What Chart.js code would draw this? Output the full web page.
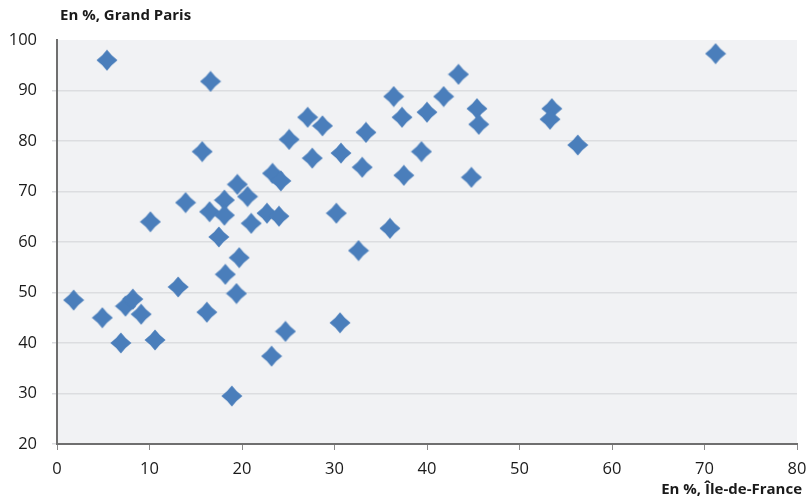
<!DOCTYPE html>
<html>
<head>
<meta charset="utf-8">
<script src="https://cdn.jsdelivr.net/npm/chart.js@4.4.1/dist/chart.umd.min.js"></script>
<style>
  html, body { margin: 0; padding: 0; background: #ffffff; }
  #wrap { position: relative; width: 810px; height: 497px; }
  canvas { position: absolute; left: 0; top: 0; }
  .ttl { position: absolute; font-family: "Open Sans", sans-serif; font-weight: bold; font-size: 15px; line-height: 15px; color: #1a1a1a; white-space: nowrap; }
  #yTitle { left: 60px; top: 7px; }
  #xTitle { right: 8px; top: 481px; }
</style>
</head>
<body>
<div id="wrap">
  <canvas id="c" width="810" height="497"></canvas>
  <div class="ttl" id="yTitle">En %, Grand Paris</div>
  <div class="ttl" id="xTitle">En %, Île-de-France</div>
</div>
<script>
// Share (%) in Île-de-France (x) vs Grand Paris (y)
const xValues = [1.8, 5.4, 4.9, 6.9, 7.4, 8.2, 9.1, 10.6, 10.1, 13.1, 13.9, 15.7, 16.6, 16.2, 16.5, 17.5, 18.1, 18.1, 19.5, 20.6, 21.0, 18.2, 19.7, 19.4, 18.9, 23.3, 24.2, 22.7, 24.0, 25.1, 27.1, 28.7, 27.6, 30.7, 33.4, 33.0, 30.2, 36.0, 32.6, 36.4, 37.3, 37.5, 39.4, 40.0, 41.8, 43.4, 45.4, 45.6, 44.8, 53.5, 53.3, 56.3, 30.6, 24.7, 23.2, 71.2];
const yValues = [48.5, 96.0, 45.0, 40.0, 47.3, 48.7, 45.7, 40.6, 64.0, 51.1, 67.8, 77.9, 91.8, 46.1, 66.0, 61.0, 68.3, 65.3, 71.4, 69.0, 63.7, 53.6, 56.9, 49.8, 29.5, 73.6, 72.1, 65.7, 65.1, 80.3, 84.7, 83.0, 76.6, 77.6, 81.7, 74.8, 65.7, 62.7, 58.3, 88.8, 84.7, 73.2, 77.9, 85.7, 88.8, 93.2, 86.4, 83.3, 72.8, 86.4, 84.3, 79.2, 44.0, 42.3, 37.4, 97.3];
const xTicks = [0, 10, 20, 30, 40, 50, 60, 70, 80];
const yTicks = [20, 30, 40, 50, 60, 70, 80, 90, 100];

const points = xValues.map((x, i) => ({ x: x, y: yValues[i] }));

// Diamond marker with slightly concave sides (Excel-like)
function makeMarker(size, color) {
  const c = document.createElement('canvas');
  c.width = size; c.height = size;
  const g = c.getContext('2d');
  const m = size / 2, r = m - 0.5, k = 1.1;
  const top = [m, m - r], right = [m + r, m], bot = [m, m + r], left = [m - r, m];
  function ctrl(a, b) {
    const mx = (a[0] + b[0]) / 2, my = (a[1] + b[1]) / 2;
    const dx = m - mx, dy = m - my, d = Math.hypot(dx, dy);
    return [mx + dx / d * k, my + dy / d * k];
  }
  g.fillStyle = color;
  g.beginPath();
  g.moveTo(top[0], top[1]);
  let q = ctrl(top, right); g.quadraticCurveTo(q[0], q[1], right[0], right[1]);
  q = ctrl(right, bot); g.quadraticCurveTo(q[0], q[1], bot[0], bot[1]);
  q = ctrl(bot, left); g.quadraticCurveTo(q[0], q[1], left[0], left[1]);
  q = ctrl(left, top); g.quadraticCurveTo(q[0], q[1], top[0], top[1]);
  g.closePath();
  g.fill();
  return c;
}
const marker = makeMarker(22, '#4a7ebb');

const plotBg = {
  id: 'plotBg',
  beforeDraw(chart) {
    const a = chart.chartArea, ctx = chart.ctx;
    ctx.save();
    ctx.fillStyle = '#f1f2f4';
    ctx.fillRect(a.left, a.top, a.right - a.left, a.bottom - a.top);
    ctx.restore();
  }
};

const tickFont = { family: '"Open Sans", sans-serif', size: 16.5 };

new Chart(document.getElementById('c'), {
  type: 'scatter',
  data: {
    datasets: [{
      data: points,
      pointStyle: marker,
      pointRadius: 11,
      pointHoverRadius: 11,
      backgroundColor: '#4a7ebb',
      borderColor: '#4a7ebb'
    }]
  },
  plugins: [plotBg],
  options: {
    responsive: false,
    animation: false,
    devicePixelRatio: 1,
    layout: { padding: { left: 0, top: 40, right: 13, bottom: 0 } },
    plugins: { legend: { display: false }, tooltip: { enabled: false } },
    scales: {
      x: {
        type: 'linear',
        min: xTicks[0], max: xTicks[xTicks.length - 1],
        afterBuildTicks(s) { s.ticks = xTicks.map(v => ({ value: v })); },
        afterFit(s) { s.height = 53; s.paddingLeft = 0; s.paddingRight = 0; },
        border: { color: '#6f6f6f', width: 2 },
        grid: { drawOnChartArea: false, drawTicks: true, tickLength: 6, color: '#8a8a8a', lineWidth: 1 },
        ticks: { font: tickFont, color: '#1a1a1a', padding: 9, maxRotation: 0 }
      },
      y: {
        type: 'linear',
        min: yTicks[0], max: yTicks[yTicks.length - 1],
        afterBuildTicks(s) { s.ticks = yTicks.map(v => ({ value: v })); },
        afterFit(s) { s.width = 57; s.paddingTop = 0; s.paddingBottom = 0; },
        border: { color: '#6f6f6f', width: 2 },
        grid: {
          drawTicks: true, tickLength: 5, lineWidth: 1.5,
          color: (ctx) => (ctx.tick && ctx.tick.value === 100) ? 'rgba(0,0,0,0)' : '#dcdde0'
        },
        ticks: { font: tickFont, color: '#1a1a1a', padding: 15 }
      }
    }
  }
});
</script>
</body>
</html>
